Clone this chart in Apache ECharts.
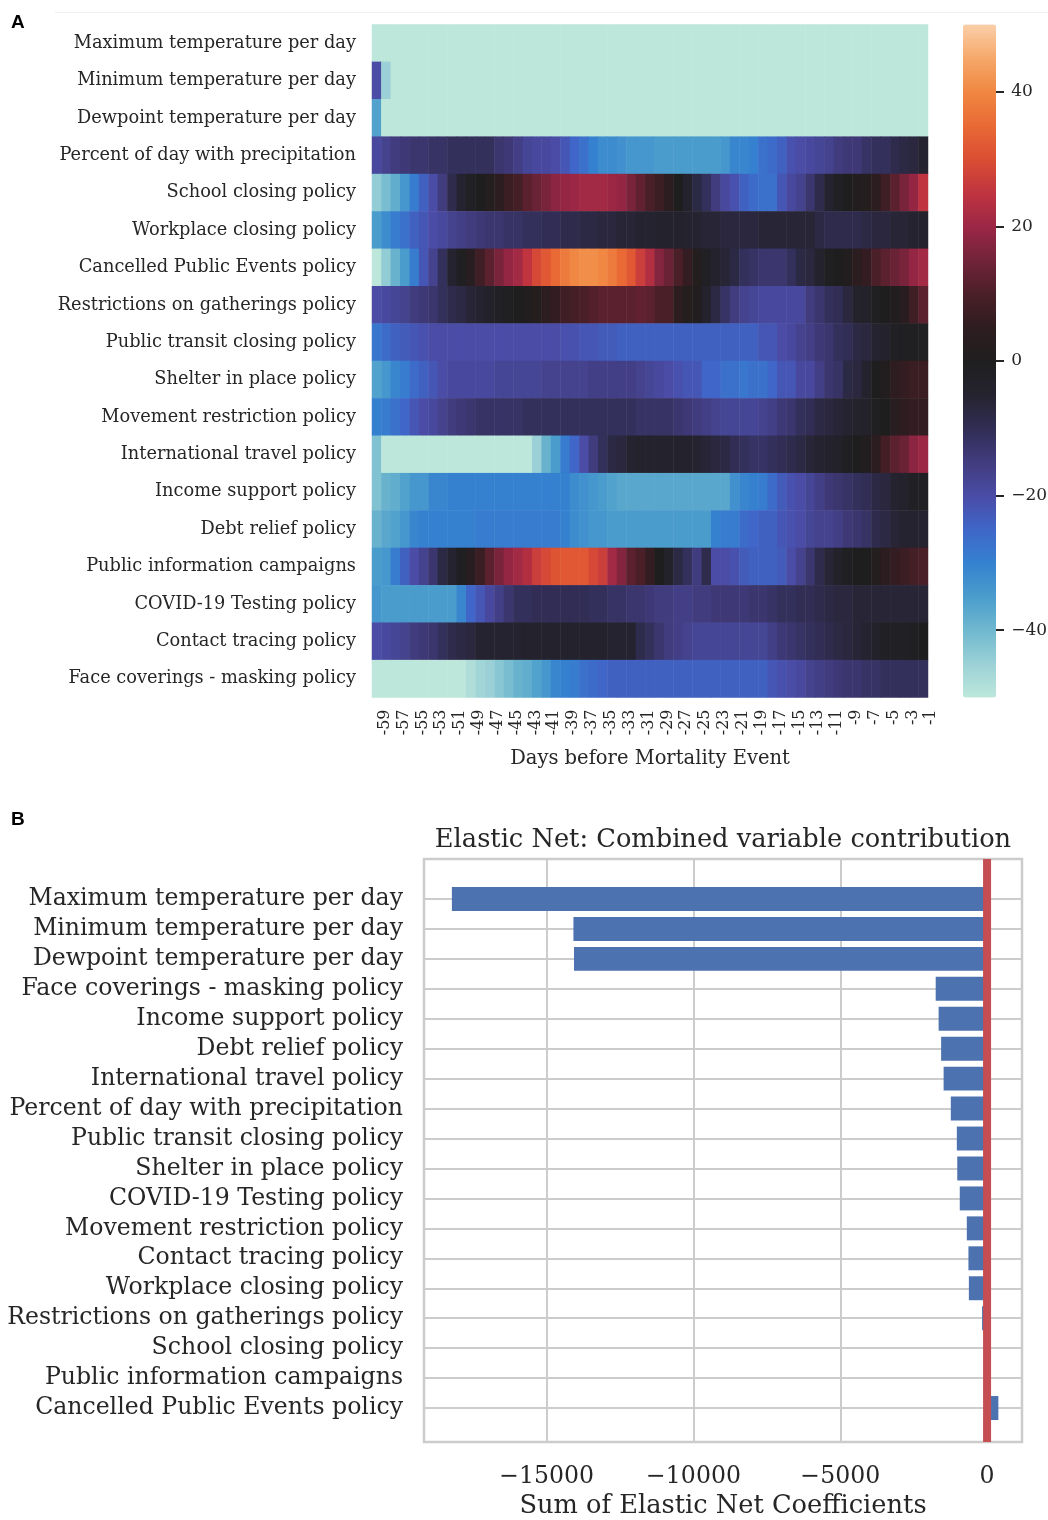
<!DOCTYPE html>
<html>
<head>
<meta charset="utf-8">
<title>Elastic Net variable contributions</title>
<script src="https://cdn.jsdelivr.net/npm/echarts@6/dist/echarts.min.js"></script>
<style>
  html, body { margin: 0; padding: 0; background: #ffffff; }
  #chart { width: 1048px; height: 1520px; }
</style>
</head>
<body>
<div id="chart"></div>
<script>
// ---------- Panel A: daily coefficients heatmap ----------
const dayLabels = ['-59','-58','-57','-56','-55','-54','-53','-52','-51','-50',
  '-49','-48','-47','-46','-45','-44','-43','-42','-41','-40',
  '-39','-38','-37','-36','-35','-34','-33','-32','-31','-30',
  '-29','-28','-27','-26','-25','-24','-23','-22','-21','-20',
  '-19','-18','-17','-16','-15','-14','-13','-12','-11','-10',
  '-9','-8','-7','-6','-5','-4','-3','-2','-1'];

const rowNames = ['Maximum temperature per day','Minimum temperature per day','Dewpoint temperature per day',
  'Percent of day with precipitation','School closing policy','Workplace closing policy',
  'Cancelled Public Events policy','Restrictions on gatherings policy','Public transit closing policy',
  'Shelter in place policy','Movement restriction policy','International travel policy',
  'Income support policy','Debt relief policy','Public information campaigns',
  'COVID-19 Testing policy','Contact tracing policy','Face coverings - masking policy'];

const maxTemp = [-50,-50,-50,-50,-50,-50,-50,-50,-50,-50, -50,-50,-50,-50,-50,-50,-50,-50,-50,-50,
  -50,-50,-50,-50,-50,-50,-50,-50,-50,-50, -50,-50,-50,-50,-50,-50,-50,-50,-50,-50,
  -50,-50,-50,-50,-50,-50,-50,-50,-50,-50, -50,-50,-50,-50,-50,-50,-50,-50,-50];
const minTemp = [-20,-45,-50,-50,-50,-50,-50,-50,-50,-50, -50,-50,-50,-50,-50,-50,-50,-50,-50,-50,
  -50,-50,-50,-50,-50,-50,-50,-50,-50,-50, -50,-50,-50,-50,-50,-50,-50,-50,-50,-50,
  -50,-50,-50,-50,-50,-50,-50,-50,-50,-50, -50,-50,-50,-50,-50,-50,-50,-50,-50];
const dewTemp = [-36,-50,-50,-50,-50,-50,-50,-50,-50,-50, -50,-50,-50,-50,-50,-50,-50,-50,-50,-50,
  -50,-50,-50,-50,-50,-50,-50,-50,-50,-50, -50,-50,-50,-50,-50,-50,-50,-50,-50,-50,
  -50,-50,-50,-50,-50,-50,-50,-50,-50,-50, -50,-50,-50,-50,-50,-50,-50,-50,-50];
const precip = [-19,-17,-15,-14,-13,-13,-12,-12,-11,-11, -11,-11,-11,-13,-14,-16,-18,-19,-19,-20,
  -22,-25,-27,-30,-32,-32,-33,-34,-34,-34, -35,-35,-35,-35,-35,-35,-35,-34,-31,-31,
  -30,-27,-26,-24,-21,-20,-19,-18,-17,-15, -14,-14,-12,-11,-11,-9,-8,-7,-5];
const school = [-44,-41,-38,-34,-29,-24,-20,-15,-9,-5, -2,0,2,4,7,9,12,14,16,18,
  19,20,21,21,21,20,19,16,13,10, 7,4,0,-4,-8,-11,-15,-19,-21,-24,
  -26,-27,-27,-22,-19,-17,-13,-9,-5,-2, 0,1,2,4,8,12,16,19,25];
const workplace = [-35,-32,-29,-27,-24,-22,-20,-19,-17,-16, -15,-14,-13,-13,-12,-12,-11,-11,-10,-10,
  -9,-9,-8,-8,-7,-7,-6,-6,-5,-5, -4,-4,-4,-5,-5,-6,-6,-7,-7,-7,
  -7,-6,-6,-6,-6,-6,-6,-8,-9,-9, -9,-9,-8,-7,-7,-6,-6,-5,-4];
const cancelledEvents = [-50,-44,-39,-35,-29,-22,-17,-11,-5,-1, 3,8,12,16,19,21,25,29,32,35,
  38,40,41,41,40,38,35,32,27,23, 17,14,10,6,2,-2,-4,-6,-8,-11,
  -12,-13,-13,-13,-11,-8,-7,-4,-1,0, 1,4,6,10,12,14,16,19,21];
const gatherings = [-20,-19,-18,-17,-15,-14,-13,-11,-9,-8, -6,-5,-3,-2,-1,0,1,2,4,6,
  8,9,10,11,12,12,12,12,13,12, 10,10,5,2,1,-4,-8,-12,-15,-17,
  -18,-19,-19,-19,-19,-19,-15,-13,-11,-10, -7,-4,-3,-1,0,1,3,8,12];
const transit = [-28,-26,-24,-23,-22,-21,-20,-20,-20,-20, -20,-20,-20,-20,-20,-20,-20,-20,-20,-20,
  -21,-21,-22,-22,-23,-23,-24,-24,-24,-24, -24,-24,-24,-24,-24,-24,-24,-24,-24,-24,
  -24,-22,-22,-20,-19,-17,-16,-14,-13,-11, -10,-8,-7,-5,-4,-2,-1,-1,-1];
const shelter = [-36,-34,-31,-29,-26,-24,-22,-20,-19,-19, -19,-19,-19,-18,-18,-18,-18,-18,-17,-17,
  -17,-17,-17,-16,-16,-16,-16,-16,-17,-18, -19,-20,-21,-22,-22,-25,-25,-27,-27,-28,
  -27,-27,-25,-22,-22,-19,-19,-16,-13,-12, -8,-7,-4,0,1,5,6,7,7];
const movement = [-30,-29,-27,-25,-22,-20,-19,-17,-15,-14, -13,-12,-12,-12,-12,-12,-11,-11,-11,-11,
  -11,-11,-11,-11,-11,-11,-11,-11,-12,-12, -12,-12,-13,-14,-15,-16,-17,-18,-18,-18,
  -18,-17,-16,-14,-13,-11,-10,-8,-7,-6, -5,-4,-3,-1,0,3,5,6,6];
const travel = [-42,-50,-50,-50,-50,-50,-50,-50,-50,-50, -50,-50,-50,-50,-50,-50,-50,-45,-39,-35,
  -29,-25,-20,-15,-11,-8,-7,-5,-4,-4, -4,-4,-4,-4,-5,-6,-7,-8,-10,-11,
  -12,-12,-11,-10,-9,-8,-6,-5,-4,-3, -1,0,1,4,9,12,14,18,20];
const incomeSupport = [-42,-39,-38,-36,-34,-34,-31,-31,-30,-30, -30,-30,-30,-30,-30,-30,-30,-30,-30,-30,
  -30,-32,-33,-34,-35,-36,-37,-37,-37,-37, -37,-37,-37,-37,-37,-37,-37,-37,-33,-31,
  -30,-29,-26,-23,-21,-20,-18,-16,-14,-13, -12,-11,-10,-8,-7,-5,-4,-2,-2];
const debtRelief = [-39,-37,-36,-34,-31,-30,-30,-30,-30,-30, -30,-29,-29,-29,-29,-29,-29,-29,-29,-29,
  -30,-32,-33,-34,-34,-35,-35,-35,-35,-35, -35,-35,-35,-35,-35,-35,-30,-29,-29,-26,
  -25,-24,-24,-22,-21,-20,-18,-17,-17,-16, -14,-13,-12,-9,-8,-6,-5,-5,-5];
const publicInfo = [-35,-34,-29,-24,-20,-17,-13,-8,-5,-1, 3,7,12,16,19,21,23,27,29,31,
  32,32,32,29,27,21,17,12,10,6, 0,-3,-8,-11,-15,-9,-20,-20,-21,-23,
  -24,-24,-24,-23,-20,-17,-13,-9,-6,-3, -1,0,0,2,4,6,7,9,10];
const testing = [-34,-35,-35,-35,-35,-35,-35,-35,-35,-31, -25,-22,-19,-16,-13,-11,-11,-10,-10,-10,
  -10,-10,-10,-11,-11,-12,-12,-13,-13,-14, -15,-15,-16,-16,-15,-15,-14,-14,-14,-14,
  -13,-13,-12,-11,-11,-10,-10,-9,-8,-7, -7,-6,-6,-6,-6,-6,-6,-6,-6];
const contactTracing = [-20,-19,-18,-17,-15,-14,-13,-11,-9,-8, -7,-5,-5,-5,-5,-5,-4,-4,-4,-4,
  -4,-4,-4,-4,-4,-5,-5,-5,-9,-11, -13,-15,-16,-17,-18,-18,-18,-18,-18,-18,
  -18,-18,-16,-14,-13,-12,-11,-10,-9,-8, -7,-6,-5,-3,-2,-2,-2,-1,0];
const masking = [-50,-50,-50,-50,-50,-50,-50,-50,-50,-50, -48,-46,-45,-43,-41,-39,-38,-36,-34,-31,
  -30,-29,-27,-26,-25,-24,-24,-24,-24,-24, -24,-24,-24,-24,-24,-24,-24,-24,-24,-24,
  -24,-24,-22,-21,-20,-19,-17,-16,-15,-14, -13,-13,-12,-12,-11,-11,-11,-11,-11];

const heatRows = [maxTemp, minTemp, dewTemp, precip, school, workplace, cancelledEvents, gatherings,
  transit, shelter, movement, travel, incomeSupport, debtRelief, publicInfo, testing, contactTracing, masking];

const colorbarTicks = [-40, -20, 0, 20, 40];

// ---------- Panel B: summed coefficients ----------
const barNames = ['Maximum temperature per day','Minimum temperature per day','Dewpoint temperature per day',
  'Face coverings - masking policy','Income support policy','Debt relief policy','International travel policy',
  'Percent of day with precipitation','Public transit closing policy','Shelter in place policy',
  'COVID-19 Testing policy','Movement restriction policy','Contact tracing policy','Workplace closing policy',
  'Restrictions on gatherings policy','School closing policy','Public information campaigns',
  'Cancelled Public Events policy'];
const barValues = [-18230, -14090, -14070, -1750, -1650, -1565, -1480, -1235, -1030, -1015,
  -930, -690, -635, -620, -170, -20, -10, 385];
const sumTicks = [-15000, -10000, -5000, 0];
const zeroLine = 0;

// icefire-style diverging palette, evenly spaced from -50 to 50
const iceFire = ['#bde7db','#9bd1d6','#6fb8cf','#4a9ccc','#3581d0','#3f66c8','#4a4ca6','#413c7e',
  '#312d54','#25232f','#1f1e1f','#2e1d20','#4b1f28','#72233a','#9c2745','#c03440','#da4e33',
  '#e96a35','#f08742','#f6a86a','#fbcfa8'];

const SERIF = 'DejaVu Serif';
const INK = '#262626';
const minus = v => (v < 0 ? '\u2212' + Math.abs(v) : String(v));

const heatData = [];
heatRows.forEach((row, r) => row.forEach((v, c) => heatData.push([c, r, v])));

const chart = echarts.init(document.getElementById('chart'), null, { renderer: 'canvas' });

chart.setOption({
  animation: false,
  backgroundColor: '#ffffff',
  textStyle: { fontFamily: SERIF, color: INK },
  graphic: [{
    type: 'line', silent: true,
    shape: { x1: 55, y1: 12.5, x2: 1048, y2: 12.5 },
    style: { stroke: '#f0f0f0', lineWidth: 1 }
  }],
  title: [
    { text: 'A', left: 11, top: 13, padding: 0,
      textStyle: { fontFamily: 'Liberation Sans', fontWeight: 'bold', fontSize: 19, color: '#000' } },
    { text: 'B', left: 11, top: 810, padding: 0,
      textStyle: { fontFamily: 'Liberation Sans', fontWeight: 'bold', fontSize: 19, color: '#000' } },
    { text: 'Elastic Net: Combined variable contribution', left: 723, top: 827, padding: 0, textAlign: 'center',
      textStyle: { fontFamily: SERIF, fontWeight: 'normal', fontSize: 25.7, color: INK } }
  ],
  visualMap: {
    type: 'continuous', seriesIndex: 0, min: -50, max: 50,
    calculable: false, orient: 'vertical',
    left: 963, top: 24.5, itemWidth: 33, itemHeight: 673, padding: 0,
    inRange: { color: iceFire }
  },
  grid: [
    { left: 372, width: 556, top: 24.5, height: 673 },
    { left: 996, width: 1, top: 24.5, height: 673 },
    { left: 424, width: 598, top: 859, height: 586, show: true, borderColor: '#cccccc', borderWidth: 2.5,
      backgroundColor: 'rgba(0,0,0,0)' },
    { left: 424, width: 598, top: 884, height: 539 }
  ],
  xAxis: [
    { gridIndex: 0, type: 'category', data: dayLabels,
      axisLine: { show: false }, axisTick: { show: false }, splitLine: { show: false },
      axisLabel: { interval: 1, rotate: 90, margin: 12, verticalAlign: 'top',
        fontFamily: SERIF, fontSize: 16, color: INK },
      name: 'Days before Mortality Event', nameLocation: 'middle', nameGap: 51,
      nameTextStyle: { fontFamily: SERIF, fontSize: 19.5, color: INK } },
    { gridIndex: 1, type: 'value', show: false },
    { gridIndex: 2, type: 'value', min: -19180, max: 1190,
      axisLine: { show: false }, axisTick: { show: false },
      splitLine: { show: true, lineStyle: { color: '#cccccc', width: 2 } },
      axisLabel: { customValues: sumTicks, formatter: minus, margin: 23,
        fontFamily: SERIF, fontSize: 23.6, color: INK },
      name: 'Sum of Elastic Net Coefficients', nameLocation: 'middle', nameGap: 51,
      nameTextStyle: { fontFamily: SERIF, fontSize: 25.7, color: INK } },
    { gridIndex: 3, type: 'value', min: -19180, max: 1190, show: false }
  ],
  yAxis: [
    { gridIndex: 0, type: 'category', data: rowNames, inverse: true,
      axisLine: { show: false }, axisTick: { show: false }, splitLine: { show: false },
      axisLabel: { interval: 0, margin: 16, fontFamily: SERIF, fontSize: 17.8, color: INK } },
    { gridIndex: 1, type: 'value', min: -50, max: 50, position: 'right',
      axisLine: { show: false }, splitLine: { show: false },
      axisTick: { show: true, customValues: colorbarTicks, length: 8, lineStyle: { color: INK, width: 2 } },
      axisLabel: { customValues: colorbarTicks, formatter: minus, margin: 15,
        fontFamily: SERIF, fontSize: 17, color: INK } },
    { gridIndex: 2, type: 'value', min: 0, max: 1, show: false },
    { gridIndex: 3, type: 'category', data: barNames, inverse: true,
      axisLine: { show: false }, axisTick: { show: false },
      splitLine: { show: true, alignWithLabel: true, lineStyle: { color: '#cccccc', width: 2 } },
      axisLabel: { interval: 0, margin: 21, fontFamily: SERIF, fontSize: 23.6, color: INK } }
  ],
  series: [
    { type: 'heatmap', xAxisIndex: 0, yAxisIndex: 0, data: heatData, silent: true,
      itemStyle: { borderWidth: 0 } },
    { type: 'bar', xAxisIndex: 3, yAxisIndex: 3, data: barValues, barWidth: '80%', silent: true,
      itemStyle: { color: '#4c72b0' } },
    { type: 'line', xAxisIndex: 2, yAxisIndex: 2, data: [[zeroLine, 0], [zeroLine, 1]], z: 5,
      symbol: 'none', silent: true, lineStyle: { color: '#c44e52', width: 8, cap: 'butt' } }
  ]
});
</script>
</body>
</html>
